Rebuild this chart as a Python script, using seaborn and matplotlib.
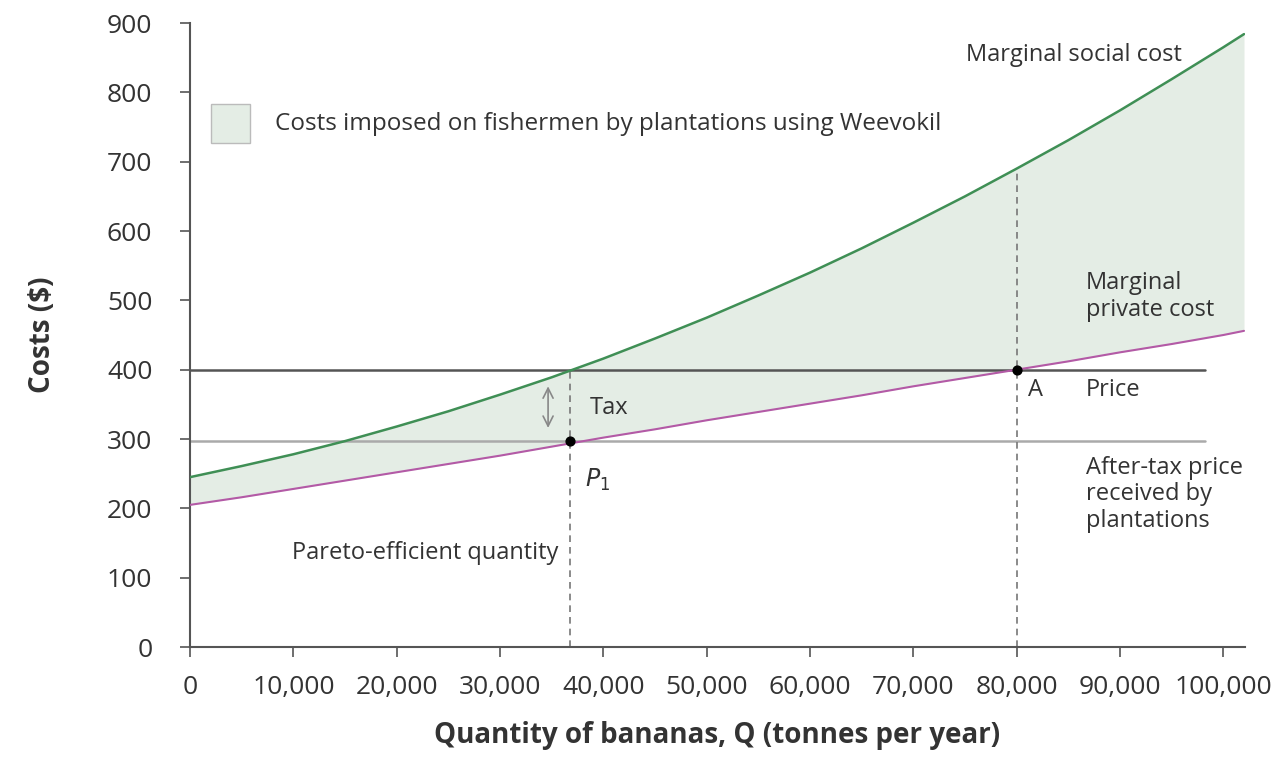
import matplotlib
matplotlib.use("Agg")
import matplotlib.pyplot as plt
import matplotlib.patches as mpatches
import seaborn as sns
import pandas as pd

# values
quantity = [0, 5000, 10000, 15000, 20000, 25000, 30000, 35000, 40000, 45000, 50000,
            55000, 60000, 65000, 70000, 75000, 80000, 85000, 90000, 95000, 100000, 102000]
social_cost = [245, 261, 278, 297, 318, 340, 364, 389, 416, 445, 475,
               507, 540, 575, 612, 650, 690, 731, 774, 819, 865, 884]
private_cost = [205, 216, 228, 240, 252, 264, 276, 289, 302, 314, 327,
                339, 351, 363, 376, 388, 400, 412, 425, 437, 450, 456]

price = 400
after_tax_price = 297
line_end = 98200
pareto_q = 36750
market_q = 80000
msc_at_market = 690
tax_x = 34650

xticks = [0, 10000, 20000, 30000, 40000, 50000, 60000, 70000, 80000, 90000, 100000]
yticks = [0, 100, 200, 300, 400, 500, 600, 700, 800, 900]

df = pd.DataFrame({"Q": quantity, "MSC": social_cost, "MPC": private_cost})

sns.set_style("white")
plt.rcParams["font.family"] = ["Open Sans", "DejaVu Sans"]

green = "#3f8f55"
purple = "#b35aa6"
fill = "#e4ede5"
text_col = "#333333"

fig = plt.figure(figsize=(12.85, 7.57), dpi=100)
ax = fig.add_axes([0.1479, 0.1453, 0.8210, 0.8243])

ax.fill_between(df["Q"], df["MPC"], df["MSC"], color=fill, lw=0, zorder=1)
ax.plot([0, line_end], [price, price], color="#555555", lw=1.8, zorder=2)
ax.plot([0, line_end], [after_tax_price, after_tax_price], color="#aaaaaa", lw=1.8, zorder=2)
sns.lineplot(data=df, x="Q", y="MSC", color=green, lw=1.8, ax=ax, zorder=3)
sns.lineplot(data=df, x="Q", y="MPC", color=purple, lw=1.5, ax=ax, zorder=3)

ax.plot([pareto_q, pareto_q], [0, price], color="#777777", lw=1.2, ls=(0, (4, 3)), zorder=2)
ax.plot([market_q, market_q], [0, msc_at_market], color="#777777", lw=1.2, ls=(0, (4, 3)), zorder=2)
ax.scatter([pareto_q, market_q], [after_tax_price, price], color="black", s=40, zorder=5)

# tax arrow
ax.annotate("", xy=(tax_x, 380), xytext=(tax_x, 312),
            arrowprops=dict(arrowstyle="<->", color="#888888", lw=1.2,
                            mutation_scale=18), zorder=4)

fs = 17
ax.text(38720, 345, "Tax", fontsize=fs, color=text_col, va="center")
ax.text(38200, 241, "$P_1$", fontsize=fs, color=text_col, va="center")
ax.text(35630, 136, "Pareto-efficient quantity", fontsize=fs, color=text_col, va="center", ha="right")
ax.text(81100, 371, "A", fontsize=fs, color=text_col, va="center")
ax.text(86700, 371, "Price", fontsize=fs, color=text_col, va="center")
ax.text(86700, 506, "Marginal\nprivate cost", fontsize=fs, color=text_col, va="center", linespacing=1.15)
ax.text(86700, 220, "After-tax price\nreceived by\nplantations", fontsize=fs, color=text_col,
        va="center", linespacing=1.15)
ax.text(75120, 854, "Marginal social cost", fontsize=fs, color=text_col, va="center")

# legend box
ax.add_patch(mpatches.Rectangle((2040, 727), 3770, 56, facecolor=fill, edgecolor="#bbbbbb",
                                lw=1, zorder=4))
ax.text(8230, 755, "Costs imposed on fishermen by plantations using Weevokil",
        fontsize=17.5, color=text_col, va="center")

ax.set_xlim(0, 102100)
ax.set_ylim(0, 900)
ax.set_xticks(xticks)
ax.set_xticklabels([f"{v:,}" for v in xticks])
ax.set_yticks(yticks)
ax.tick_params(axis="both", direction="out", length=7.2, width=1.2, color="#555555",
               labelsize=19, labelcolor=text_col, bottom=True, left=True)
ax.tick_params(axis="x", pad=13)
ax.tick_params(axis="y", pad=20)
sns.despine(ax=ax)
for s in ["left", "bottom"]:
    ax.spines[s].set_color("#555555")
    ax.spines[s].set_linewidth(1.5)

ax.set_xlabel("Quantity of bananas, Q (tonnes per year)", fontsize=20, fontweight="bold",
              color=text_col, labelpad=15)
ax.set_ylabel("Costs ($)", fontsize=20, fontweight="bold", color=text_col, labelpad=36)

fig.savefig("out.png", dpi=100)
